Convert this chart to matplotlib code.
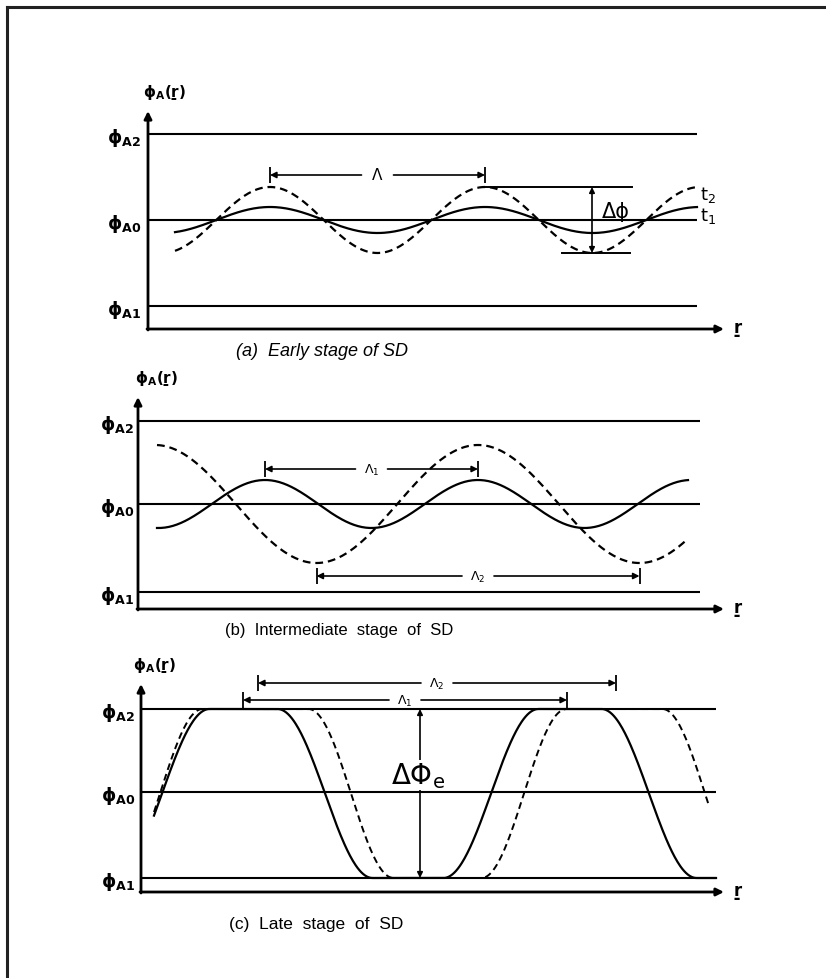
"""
Spinodal decomposition: composition profiles phi_A(r) at early,
intermediate and late stages. Saves out.png.
"""

import numpy as np
import matplotlib
matplotlib.use("Agg")
import matplotlib.pyplot as plt
from matplotlib.lines import Line2D

plt.rcParams["mathtext.fontset"] = "dejavusans"

W, H, DPI = 826, 979, 100

# ---------------- data (all lengths in px from the panel origin) ----------------
# (a) early stage
a_levels = [195, 109, 23]                 # phi_A2, phi_A0, phi_A1
a_wavelength = 215
a_first_crest = 122
a_amp = [13, 33]                          # t1 (solid), t2 (dashed)
a_r_range = [27, 549]

# (b) intermediate stage
b_levels = [188, 105, 17]
b_wavelength = [213, 323]                 # Lambda1 (solid), Lambda2 (dashed)
b_first_crest = [127, 340]
b_amp = [24, 59]
b_r_range = [19, 550]

# (c) late stage: mid-height crossings of the square-ish profiles
c_levels = [183, 100, 14]
c_solid_cross = [21, 184, 350, 508]
c_dashed_cross = [19, 210, 383, 564]
c_front_width = [95, 85]
c_solid_range = [13, 575]
c_dashed_range = [13, 568]

level_names = ["ϕ$_{\\mathbf{A2}}$", "ϕ$_{\\mathbf{A0}}$", "ϕ$_{\\mathbf{A1}}$"]


def make_panel(fig, ox, oy, xmax, ymax):
    """Axes whose data units are pixels measured from the origin (ox, oy)."""
    ax = fig.add_axes([ox / W, (H - oy) / H, xmax / W, ymax / H])
    ax.set_xlim(0, xmax)
    ax.set_ylim(0, ymax)
    ax.axis("off")
    arrow = dict(arrowstyle="-|>", lw=2.0, color="k", mutation_scale=11,
                 shrinkA=0, shrinkB=0)
    ax.annotate("", xy=(0, ymax), xytext=(0, -1), arrowprops=arrow,
                annotation_clip=False)
    ax.annotate("", xy=(xmax, 0), xytext=(-1, 0), arrowprops=arrow,
                annotation_clip=False)
    return ax


def draw_levels(ax, levels, x_end, label_dx=-6, fs=13):
    for lev, name in zip(levels, level_names):
        ax.plot([0, x_end], [lev, lev], color="k", lw=1.5, solid_capstyle="butt")
        ax.text(label_dx, lev - 3, name, ha="right", va="center", fontsize=fs,
                fontweight="bold")


def dim_arrow(ax, x0, x1, y, label, gap=14, fs=11, tick=8):
    xm = (x0 + x1) / 2
    props = dict(arrowstyle="-|>", lw=1.2, color="k", mutation_scale=9,
                 shrinkA=0, shrinkB=0)
    ax.annotate("", xy=(x0, y), xytext=(xm - gap, y), arrowprops=props,
                annotation_clip=False)
    ax.annotate("", xy=(x1, y), xytext=(xm + gap, y), arrowprops=props,
                annotation_clip=False)
    ax.vlines([x0, x1], y - tick, y + tick, color="k", lw=1.3, clip_on=False)
    ax.text(xm, y, label, ha="center", va="center", fontsize=fs)


def vert_arrow(ax, x, y0, y1):
    props = dict(arrowstyle="<|-|>", lw=1.2, color="k", mutation_scale=8,
                 shrinkA=0, shrinkB=0)
    ax.annotate("", xy=(x, y1), xytext=(x, y0), arrowprops=props)


def axis_labels(ax, xmax, ymax, ylab_dx):
    ax.text(ylab_dx, ymax + 10, "ϕ$_{\\mathbf{A}}$(ṟ)", ha="left", va="bottom",
            fontsize=11, fontweight="bold", clip_on=False)
    ax.text(xmax + 10, 2, "ṟ", ha="left", va="center", fontsize=12,
            fontweight="bold", clip_on=False)


def square_profile(r, crossings, width, low, high):
    # smooth up/down fronts (raised cosine) centred on each crossing
    h = np.zeros_like(r)
    sign = 1.0
    for c in crossings:
        u = np.clip((r - c) / width, -0.5, 0.5)
        h += sign * (0.5 + 0.5 * np.sin(np.pi * u))
        sign = -sign
    return low + (high - low) * h


fig = plt.figure(figsize=(W / DPI, H / DPI), dpi=DPI)
fig.add_artist(Line2D([7 / W, 7 / W], [0, 1 - 8 / H], color="#222", lw=2.2))
fig.add_artist(Line2D([7 / W, 1], [1 - 8 / H, 1 - 8 / H], color="#222", lw=2.2))

caption_font = ["Liberation Sans", "DejaVu Sans"]

# ---------------- (a) early stage ----------------
ax = make_panel(fig, 148, 330, 576, 218)
draw_levels(ax, a_levels, 549, label_dx=-7)
r = np.linspace(*a_r_range, 400)
phase = 2 * np.pi * (r - a_first_crest) / a_wavelength
ax.plot(r, a_levels[1] + a_amp[0] * np.cos(phase), color="k", lw=1.6)
ax.plot(r, a_levels[1] + a_amp[1] * np.cos(phase), color="k", lw=1.6,
        ls=(0, (3.5, 2.2)))
crest = a_levels[1] + a_amp[1]
trough = a_levels[1] - a_amp[1]
dim_arrow(ax, a_first_crest, a_first_crest + a_wavelength, 154, "Λ", gap=16, fs=11)
ax.plot([a_first_crest + a_wavelength, 484], [crest, crest], color="k", lw=1.4)
ax.plot([414, 482], [trough, trough], color="k", lw=1.4)
vert_arrow(ax, 444, trough, crest)
ax.text(454, 118, "Δϕ", ha="left", va="center", fontsize=15)
ax.text(552, 135, "$\\mathregular{t_2}$", ha="left", va="center", fontsize=13)
ax.text(552, 114, "$\\mathregular{t_1}$", ha="left", va="center", fontsize=13)
axis_labels(ax, 576, 218, -5)
ax.text(174, -22, "(a)  Early stage of SD", ha="center", va="center",
        fontsize=13, style="italic", family=caption_font)

# ---------------- (b) intermediate stage ----------------
ax = make_panel(fig, 138, 610, 586, 212)
draw_levels(ax, b_levels, 562, label_dx=-4)
r = np.linspace(*b_r_range, 400)
ax.plot(r, b_levels[1] + b_amp[0] * np.cos(2 * np.pi * (r - b_first_crest[0]) / b_wavelength[0]),
        color="k", lw=1.6)
ax.plot(r, b_levels[1] + b_amp[1] * np.cos(2 * np.pi * (r - b_first_crest[1]) / b_wavelength[1]),
        color="k", lw=1.6, ls=(0, (3.5, 2.2)))
dim_arrow(ax, b_first_crest[0], b_first_crest[0] + b_wavelength[0], 140,
          r"$\mathregular{\Lambda_1}$", gap=16, fs=9)
t0 = b_first_crest[1] - b_wavelength[1] / 2
dim_arrow(ax, t0, t0 + b_wavelength[1], 33, r"$\mathregular{\Lambda_2}$", gap=16, fs=9)
axis_labels(ax, 586, 212, -3)
ax.text(201, -20, "(b)  Intermediate  stage  of  SD", ha="center", va="center",
        fontsize=12, family=caption_font)

# ---------------- (c) late stage ----------------
ax = make_panel(fig, 141, 893, 583, 208)
draw_levels(ax, c_levels, 575, label_dx=-6)
r = np.linspace(*c_solid_range, 600)
ax.plot(r, square_profile(r, c_solid_cross, c_front_width[0], c_levels[2], c_levels[0]),
        color="k", lw=1.6)
r = np.linspace(*c_dashed_range, 600)
ax.plot(r, square_profile(r, c_dashed_cross, c_front_width[1], c_levels[2], c_levels[0]),
        color="k", lw=1.4, ls=(0, (3.5, 2.2)))
dim_arrow(ax, 117, 475, 209, r"$\mathregular{\Lambda_2}$", gap=16, fs=9)
dim_arrow(ax, 102, 426, 192, r"$\mathregular{\Lambda_1}$", gap=16, fs=9)
vert_arrow(ax, 279, c_levels[2], c_levels[0])
ax.text(277, 117, r"$\mathregular{\Delta\Phi_e}$", ha="center", va="center",
        fontsize=20, bbox=dict(facecolor="white", edgecolor="none", pad=0))
axis_labels(ax, 583, 208, -8)
ax.text(175, -32, "(c)  Late  stage  of  SD", ha="center", va="center",
        fontsize=12.5, family=caption_font)

fig.savefig("out.png", dpi=DPI)
